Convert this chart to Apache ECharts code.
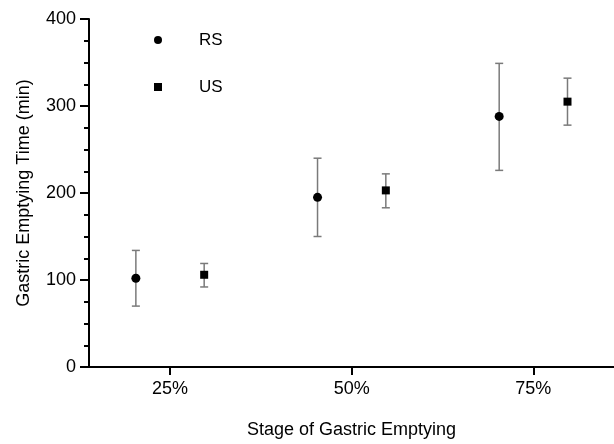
<!DOCTYPE html>
<html>
<head>
<meta charset="utf-8">
<script src="https://cdn.jsdelivr.net/npm/echarts@6/dist/echarts.min.js"></script>
<style>
  html, body { margin: 0; padding: 0; background: #fff; }
  #chartArea { width: 614px; height: 444px; }
</style>
</head>
<body>
<div id="chartArea"></div>
<script>
// stage of gastric emptying (%)
const stages = [25, 50, 75];
const stageLabels = ['25%', '50%', '75%'];

// RS
const rsMean = [102, 195, 288];
const rsLow = [70, 150, 226];
const rsHigh = [134, 240, 349];

// US
const usMean = [106, 203, 305];
const usLow = [92, 183, 278];
const usHigh = [119, 222, 332];

const yTicks = [0, 100, 200, 300, 400];

// points sit either side of each stage
const groupShift = 4.7;
const fontName = 'Liberation Sans, Arial, sans-serif';

function pointData(means, shift) {
  return stages.map((s, i) => [s + shift, means[i]]);
}
function barData(lows, highs, shift) {
  return stages.map((s, i) => [s + shift, lows[i], highs[i]]);
}

// error bar drawn with the axis scales
function renderErrorBar(params, api) {
  let x = api.value(0);
  let lo = api.coord([x, api.value(1)]);
  let hi = api.coord([x, api.value(2)]);
  let half = 4;
  let style = { stroke: '#7a7a7a', lineWidth: 1.5, fill: null };
  return {
    type: 'group',
    children: [
      { type: 'line', shape: { x1: hi[0], y1: hi[1], x2: lo[0], y2: lo[1] }, style: style },
      { type: 'line', shape: { x1: hi[0] - half, y1: hi[1], x2: hi[0] + half, y2: hi[1] }, style: style },
      { type: 'line', shape: { x1: lo[0] - half, y1: lo[1], x2: lo[0] + half, y2: lo[1] }, style: style }
    ]
  };
}

const chartDom = document.getElementById('chartArea');
let myChart = echarts.init(chartDom);
let option;

option = {
  animation: false,
  backgroundColor: '#fff',
  textStyle: { fontFamily: fontName },
  grid: { left: 89, right: 0, top: 19, bottom: 76 },
  legend: {
    orient: 'vertical',
    left: 149,
    top: 25,
    itemWidth: 8,
    itemHeight: 8,
    itemGap: 27,
    data: [
      { name: 'RS', icon: 'circle' },
      { name: 'US', icon: 'rect' }
    ],
    textStyle: { color: '#000', fontSize: 17, lineHeight: 20, padding: [0, 0, 0, 32], fontFamily: fontName }
  },
  xAxis: {
    type: 'value',
    min: 13.85,
    max: 86.1,
    name: 'Stage of Gastric Emptying',
    nameLocation: 'middle',
    nameGap: 54,
    nameTextStyle: { color: '#000', fontSize: 18, fontFamily: fontName },
    splitLine: { show: false },
    axisLine: { lineStyle: { color: '#000', width: 2 } },
    axisTick: { show: true, length: 8, lineStyle: { color: '#000', width: 2 }, customValues: stages },
    axisLabel: {
      color: '#000', fontSize: 18, margin: 13, fontFamily: fontName,
      customValues: stages,
      formatter: function (v) {
        let i = stages.indexOf(v);
        return i >= 0 ? stageLabels[i] : '';
      }
    }
  },
  yAxis: {
    type: 'value',
    min: 0,
    max: 400,
    interval: 100,
    name: 'Gastric Emptying Time (min)',
    nameLocation: 'middle',
    nameGap: 56,
    nameTextStyle: { color: '#000', fontSize: 18, fontFamily: fontName },
    splitLine: { show: false },
    axisLine: { show: true, lineStyle: { color: '#000', width: 2 } },
    axisTick: { show: true, length: 9, lineStyle: { color: '#000', width: 2 } },
    minorTick: { show: true, splitNumber: 4, length: 5, lineStyle: { color: '#000', width: 2 } },
    axisLabel: {
      color: '#000', fontSize: 18, margin: 13, fontFamily: fontName,
      formatter: function (v) { return yTicks.indexOf(v) >= 0 ? String(v) : ''; }
    }
  },
  series: [
    {
      name: 'RS err',
      type: 'custom',
      renderItem: renderErrorBar,
      encode: { x: 0, y: [1, 2] },
      data: barData(rsLow, rsHigh, -groupShift),
      z: 1
    },
    {
      name: 'US err',
      type: 'custom',
      renderItem: renderErrorBar,
      encode: { x: 0, y: [1, 2] },
      data: barData(usLow, usHigh, groupShift),
      z: 1
    },
    {
      name: 'RS',
      type: 'scatter',
      symbol: 'circle',
      symbolSize: 9,
      itemStyle: { color: '#000', opacity: 1 },
      data: pointData(rsMean, -groupShift),
      z: 3
    },
    {
      name: 'US',
      type: 'scatter',
      symbol: 'rect',
      symbolSize: 8,
      itemStyle: { color: '#000', opacity: 1 },
      data: pointData(usMean, groupShift),
      z: 3
    }
  ]
};

option && myChart.setOption(option);
</script>
</body>
</html>
